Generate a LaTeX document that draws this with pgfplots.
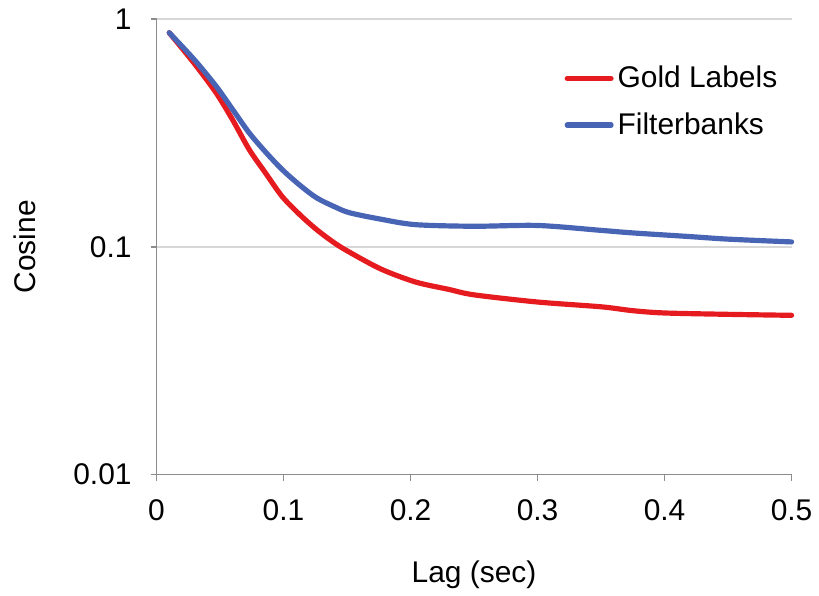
\documentclass[border=0pt]{standalone}
\usepackage{fontspec}
\setmainfont{Liberation Sans}
\usepackage{pgfplots}
\pgfplotsset{compat=1.18}
\definecolor{goldred}{RGB}{230,27,32}
\definecolor{fbblue}{RGB}{72,100,180}
\definecolor{axgray}{RGB}{140,140,140}
\definecolor{gridgray}{RGB}{215,215,215}
\begin{document}
\begin{tikzpicture}
\begin{axis}[
  at={(0,0)}, anchor=south west,
  scale only axis,
  width=318.5pt, height=228.5pt,
  xmin=0, xmax=0.5,
  ymode=log, ymin=0.01, ymax=1,
  axis lines=left,
  axis line style={axgray, line width=0.8pt, -},
  xtick={0,0.1,0.2,0.3,0.4,0.5},
  xticklabels={0,0.1,0.2,0.3,0.4,0.5},
  ytick={0.01,0.1,1},
  yticklabels={0.01,0.1,1},
  yminorticks=false,
  tick align=outside,
  major tick length=3pt,
  tick style={axgray, line width=0.8pt},
  ymajorgrids,
  major grid style={gridgray, line width=0.8pt},
  /pgf/number format/assume math mode=true,
  tick label style={font=\fontsize{15}{18}\selectfont},
  xticklabel style={yshift=-6pt},
  yticklabel style={xshift=-6pt},
  label style={font=\fontsize{15}{18}\selectfont},
  xlabel={Lag (sec)},
  ylabel={Cosine},
  xlabel style={at={(axis description cs:0.5,-0.22)}, anchor=center},
  ylabel style={at={(axis description cs:-0.207,0.5)}, anchor=center},
  legend style={draw=none, fill=none, at={(0.642,0.906)}, anchor=north west,
    font=\fontsize{15}{18}\selectfont, row sep=7pt, inner sep=0pt},
  legend cell align=left,
  legend image code/.code={\draw[#1, line width=2.6pt] (0pt,0pt) -- (22pt,0pt);},
  clip=false,
]
\addplot[goldred, line width=2.6pt, smooth, line cap=round] coordinates {
(0.01,0.87)(0.03,0.635)(0.047,0.473)(0.06,0.36)(0.073,0.267)(0.086,0.21)
(0.099,0.166)(0.113,0.138)(0.126,0.119)(0.14,0.104)(0.152,0.0946)
(0.177,0.0797)(0.204,0.070)(0.23,0.065)(0.25,0.0615)(0.3,0.0572)
(0.35,0.0545)(0.375,0.0524)(0.4,0.0512)(0.45,0.0505)(0.5,0.050)};
\addlegendentry{Gold Labels}
\addplot[fbblue, line width=2.6pt, smooth, line cap=round] coordinates {
(0.01,0.87)(0.03,0.66)(0.047,0.506)(0.06,0.40)(0.073,0.316)(0.086,0.26)
(0.099,0.218)(0.113,0.186)(0.126,0.164)(0.14,0.150)(0.152,0.141)
(0.177,0.132)(0.204,0.125)(0.25,0.123)(0.3,0.124)(0.35,0.118)
(0.375,0.115)(0.418,0.111)(0.45,0.108)(0.5,0.105)};
\addlegendentry{Filterbanks}
\end{axis}
\useasboundingbox (-78.5pt,-58pt) rectangle (331pt,238pt);
\end{tikzpicture}
\end{document}
